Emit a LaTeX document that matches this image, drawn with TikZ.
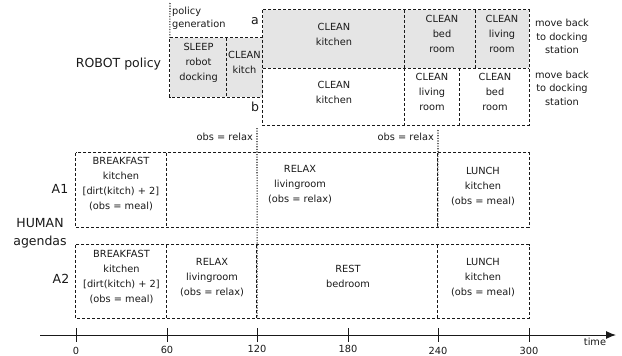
\documentclass[tikz,border=0pt]{standalone}
\usepackage{fontspec}
\setmainfont{DejaVu Sans}
\usetikzlibrary{arrows.meta}
\definecolor{boxgray}{RGB}{229,229,229}
\definecolor{ink}{RGB}{25,25,25}
\begin{document}
\begin{tikzpicture}[x=1pt,y=-1pt,
  area/.style={rectangle, inner sep=0pt, draw=none},
  garea/.style={area, fill=boxgray},
  dline/.style={draw=ink, line width=1.1pt, dash pattern=on 3pt off 2pt},
  txt/.style={font=\fontsize{9.8}{15}\selectfont, align=center, inner sep=0pt, text=ink},
  side/.style={font=\fontsize{9.8}{13.5}\selectfont, align=center, inner sep=0pt, text=ink},
  big/.style={font=\fontsize{12.5}{14}\selectfont, inner sep=0pt, text=ink},
  vdot/.style={draw=ink, line width=1.1pt, dash pattern=on 1.1pt off 1.5pt},
  tickline/.style={draw=ink, line width=1pt},
]
\useasboundingbox (0,0) rectangle (622,356);

% ---------- ROBOT policy ----------
\node[big] (robot) at (118.5,64) {ROBOT policy};
\node[side, anchor=west, align=left, font=\fontsize{9.8}{13}\selectfont] (polgen) at (172,18.5) {policy\\generation};
\coordinate (pgtop) at (170,3);

\node[garea, minimum width=57pt, minimum height=59pt] (sleep) at (198.5,67.5) {};
\node[garea, minimum width=36pt, minimum height=59pt] (kitch) at (245,67.5) {};
\node[txt] (sleept) at (198.5,63) {SLEEP\\robot\\docking};
\node[txt] (kitcht) at (244.5,62.5) {CLEAN\\kitch};

% row a
\node[garea, minimum width=142pt, minimum height=58pt] (ra1) at (334,39) {};
\node[garea, minimum width=71pt, minimum height=58pt] (ra2) at (440.5,39) {};
\node[garea, minimum width=53pt, minimum height=58pt] (ra3) at (502.5,39) {};
\node[txt] (ra1t) at (334,34.5) {CLEAN\\kitchen};
\node[txt] (ra2t) at (442,34) {CLEAN\\bed\\room};
\node[txt] (ra3t) at (502,34) {CLEAN\\living\\room};
\node[side] (mba) at (562,36.5) {move back\\to docking\\station};
% row b
\node[area, minimum width=142pt, minimum height=57pt] (rb1) at (334,96.5) {};
\node[area, minimum width=55pt, minimum height=57pt] (rb2) at (432.5,96.5) {};
\node[area, minimum width=69pt, minimum height=57pt] (rb3) at (494.5,96.5) {};
\node[txt] (rb1t) at (334,92) {CLEAN\\kitchen};
\node[txt] (rb2t) at (432,92) {CLEAN\\living\\room};
\node[txt] (rb3t) at (495,92) {CLEAN\\bed\\room};
\node[side] (mbb) at (562,88) {move back\\to docking\\station};

\node[big] (la) at (255,21) {a};
\node[big] (lb) at (255,107) {b};

% robot grid lines
\draw[dline] (kitch.north east) -- (sleep.north west) -- (sleep.south west) -- (kitch.south east);
\draw[dline] (kitch.north west) -- (kitch.south west);
\draw[dline] (ra1.north west) rectangle (rb3.south east);
\draw[dline] (ra1.south west) -- (ra3.south east);
\draw[dline] (ra2.north west) -- (ra2.south west);
\draw[dline] (ra3.north west) -- (ra3.south west);
\draw[dline] (rb2.north west) -- (rb2.south west);
\draw[dline] (rb3.north west) -- (rb3.south west);
\draw[vdot] (pgtop) -- (sleep.north west);

% ---------- HUMAN agendas ----------
\node[side, anchor=east] (obs1) at (253,137) {obs = relax};
\node[side, anchor=east] (obs2) at (434,137) {obs = relax};

\node[big] (a1) at (60,189) {A1};
\node[big] (human) at (40,223) {HUMAN};
\node[big] (agendas) at (40,242) {agendas};
\node[big] (a2) at (61,279) {A2};

% A1 row
\node[area, minimum width=91pt, minimum height=74pt] (a1b) at (121.5,190) {};
\node[area, minimum width=90pt, minimum height=74pt] (a1e) at (212,190) {};
\node[area, minimum width=181pt, minimum height=74pt] (a1r) at (347.5,190) {};
\node[area, minimum width=91pt, minimum height=74pt] (a1l) at (483.5,190) {};
\node[txt] (a1bt) at (121,184.5) {BREAKFAST\\kitchen\\{[}dirt(kitch) + 2{]}\\(obs = meal)};
\node[txt] (a1rt) at (300,185) {RELAX\\livingroom\\(obs = relax)};
\node[txt] (a1lt) at (483,186.5) {LUNCH\\kitchen\\(obs = meal)};
\draw[dline] (a1b.north west) rectangle (a1l.south east);
\draw[dline] (a1e.north west) -- (a1e.south west);
\draw[dline] (a1l.north west) -- (a1l.south west);

% A2 row
\node[area, minimum width=91pt, minimum height=73pt] (a2b) at (121.5,281.5) {};
\node[area, minimum width=90pt, minimum height=73pt] (a2e) at (212,281.5) {};
\node[area, minimum width=181pt, minimum height=73pt] (a2r) at (347.5,281.5) {};
\node[area, minimum width=91pt, minimum height=73pt] (a2l) at (483.5,281.5) {};
\node[txt] (a2bt) at (121.5,277.5) {BREAKFAST\\kitchen\\{[}dirt(kitch) + 2{]}\\(obs = meal)};
\node[txt] (a2et) at (212,278) {RELAX\\livingroom\\(obs = relax)};
\node[txt] (a2rt) at (348,276.5) {REST\\bedroom};
\node[txt] (a2lt) at (483,278) {LUNCH\\kitchen\\(obs = meal)};
\draw[dline] (a2b.north west) rectangle (a2l.south east);
\draw[dline] (a2e.north west) -- (a2e.south west);
\draw[dline] (a2r.north west) -- (a2r.south west);
\draw[dline] (a2l.north west) -- (a2l.south west);

% dotted time markers
\coordinate (d120top) at (257,128);
\coordinate (d240top) at (438,130);
\draw[vdot] (d120top) -- (a2e.south east);
\draw[vdot] (d240top) -- (a1l.south west);

% ---------- time axis ----------
\coordinate (axs) at (40,335);
\coordinate (axe) at (616,335);
\draw[draw=ink, line width=1pt, -{Latex[length=10pt,width=8pt]}] (axs) -- (axe);
\foreach \x/\t/\ly in {76/0/347.5, 167/60/346.5, 257/120/345.5, 348/180/345.5, 438/240/347, 529/300/347.5}{
  \coordinate (tk\t a) at (\x,328);
  \coordinate (tk\t b) at (\x,342);
  \draw[tickline] (tk\t a) -- (tk\t b);
  \node[side, anchor=north] (lab\t) at (\x,\ly) {\t};
}
\node[side] (time) at (595,342) {time};
\end{tikzpicture}
\end{document}
